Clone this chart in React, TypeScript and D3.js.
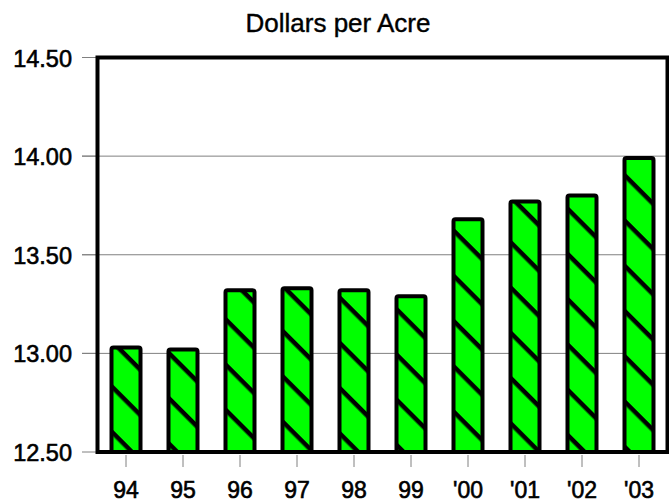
import React from "react";
import * as d3 from "d3";

const categories = ["94", "95", "96", "97", "98", "99", "'00", "'01", "'02", "'03"];
const values = [13.03, 13.02, 13.32, 13.33, 13.32, 13.29, 13.68, 13.77, 13.80, 13.99];
const yTicks = [12.5, 13.0, 13.5, 14.0, 14.5];
const title = "Dollars per Acre";

const W = 669;
const H = 504;
const left = 97.5;
const right = 667.5;
const top = 57.5;
const bottom = 452;
const font = "'Liberation Sans', Arial, Helvetica, sans-serif";

export default function App() {
  const x = d3.scaleBand<string>().domain(categories).range([left, right]).padding(0);
  const y = d3.scaleLinear().domain([12.5, 14.5]).range([bottom, top]);
  const barW = 29;
  const hatchGap = 32;

  return (
    <svg
      width={W}
      height={H}
      style={{ position: "fixed", left: 0, top: 0, display: "block", background: "#fff" }}
      fontFamily={font}
    >
      <defs>
        <pattern
          id="hatch"
          patternUnits="userSpaceOnUse"
          width={10}
          height={hatchGap}
          patternTransform="rotate(45)"
        >
          <rect x={0} y={0} width={10} height={hatchGap} fill="#00ff00" />
          <rect x={0} y={0} width={10} height={4.5} fill="#000" />
        </pattern>
      </defs>
      <text x={338} y={32} textAnchor="middle" fontSize={26} fill="#000" stroke="#000" strokeWidth={0.4}>
        {title}
      </text>
      {yTicks.map((t) => (
        <g key={t}>
          {t > 12.5 && t < 14.5 && (
            <line x1={82} x2={right} y1={y(t)} y2={y(t)} stroke="#808080" strokeWidth={1} />
          )}
          <line x1={82} x2={left} y1={y(t)} y2={y(t)} stroke="#808080" strokeWidth={1} />
          <text x={72} y={y(t) + 9} textAnchor="end" fontSize={23.5} fill="#000" stroke="#000" strokeWidth={0.6}>
            {t.toFixed(2)}
          </text>
        </g>
      ))}
      {categories.map((c, i) => {
        const cx = (x(c) as number) + x.bandwidth() / 2;
        return (
          <g key={c}>
            <rect
              x={cx - barW / 2}
              y={y(values[i])}
              width={barW}
              height={bottom - y(values[i])}
              fill="url(#hatch)"
              stroke="#000"
              strokeWidth={4}
              rx={2}
            />
            <line x1={cx} x2={cx} y1={455} y2={467} stroke="#808080" strokeWidth={1} />
            <text x={cx} y={498} textAnchor="middle" fontSize={23} fill="#000" stroke="#000" strokeWidth={0.6}>
              {c}
            </text>
          </g>
        );
      })}
      <rect
        x={left}
        y={top}
        width={right - left}
        height={bottom - top}
        fill="none"
        stroke="#000"
        strokeWidth={4}
      />
    </svg>
  );
}
